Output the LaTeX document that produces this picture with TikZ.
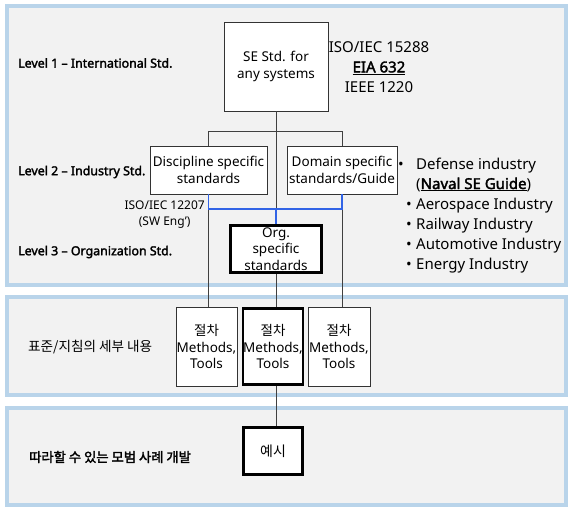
\documentclass[tikz,border=0pt]{standalone}
\usepackage{fontspec}
\setmainfont{Noto Sans}[AutoFakeBold=2.2]
\newfontfamily\kr{Noto Sans CJK KR}[AutoFakeBold=2.2]
\definecolor{pblue}{RGB}{185,212,234}
\definecolor{pgray}{RGB}{242,242,242}
\definecolor{lblue}{RGB}{50,100,230}
\definecolor{lgray}{RGB}{64,64,64}
\begin{document}
\begin{tikzpicture}[x=1pt,y=-1pt,
  panel/.style={draw=pblue, line width=3.5pt, fill=pgray},
  box/.style={draw=black!80, line width=0.9pt, fill=white, align=center, inner sep=0pt, font=\fontsize{13.5}{16.5}\selectfont},
  boxb/.style={box, draw=black, line width=2.6pt},
  lvl/.style={anchor=west, inner sep=0pt, font=\bfseries\fontsize{12.4}{14}\selectfont},
  conn/.style={draw=lgray, line width=1pt},
  bconn/.style={draw=lblue, line width=1.2pt},
  std/.style={inner sep=0pt, font=\fontsize{15}{20}\selectfont, align=center},
  bul/.style={anchor=base west, inner sep=0pt, font=\fontsize{15}{18}\selectfont},
  dot/.style={anchor=base, inner sep=0pt, font=\fontsize{15}{18}\selectfont},
  krl/.style={anchor=west, inner sep=0pt, font=\kr\fontsize{13.6}{15}\selectfont},
]
\useasboundingbox (0,0) rectangle (568,507);
% panels
\draw[panel] (7,6) rectangle (566,285);
\draw[panel] (7,297) rectangle (566,395);
\draw[panel] (7,408) rectangle (566,505);

% boxes
\node[box, minimum width=104pt, minimum height=89pt] (se) at (276,66.5) {SE Std. for\\any systems};
\node[box, minimum width=117pt, minimum height=48pt] (disc) at (208.5,170) {Discipline specific\\standards};
\node[box, minimum width=110pt, minimum height=48pt] (dom) at (342,170) {Domain specific\\standards/Guide};
\node[boxb, minimum width=91.4pt, minimum height=47.4pt] (org) at (276,249) {Org.\\specific\\standards};
\node[box, minimum width=61pt, minimum height=79pt] (m1) at (206.5,346.5) {{\kr 절차}\\Methods,\\Tools};
\node[boxb, minimum width=59.4pt, minimum height=76.4pt] (m2) at (273,346.5) {{\kr 절차}\\Methods,\\Tools};
\node[box, minimum width=62pt, minimum height=79pt] (m3) at (339,346.5) {{\kr 절차}\\Methods,\\Tools};
\node[boxb, minimum width=59.4pt, minimum height=47.4pt, font=\kr\fontsize{14}{16}\selectfont] (ex) at (273,451) {예시};

% connectors
\coordinate (jy) at (276,209);
\coordinate (br) at (276,131.5);
\draw[conn] (se.south) -- (se.south |- jy);
\draw[conn] (disc.north) -- (disc.north |- br) -- (dom.north |- br) -- (dom.north);
\draw[conn] (disc.south |- jy) -- (disc.south |- m1.north);
\draw[conn] (dom.south |- jy) -- (dom.south |- m3.north);
\draw[conn] (org.south) -- (org.south |- m2.north);
\draw[conn] (org.south |- m2.south) -- (org.south |- ex.north);
\draw[bconn] (disc.south) -- (disc.south |- jy) -- (dom.south |- jy) -- (dom.south);
\draw[bconn] (se.south |- jy) -- (org.north);

% level labels
\node[lvl] (l1) at (18,63) {Level 1 – International Std.};
\node[lvl] (l2) at (18,172) {Level 2 – Industry Std.};
\node[lvl] (l3) at (18,252) {Level 3 – Organization Std.};
\node[krl] (k1) at (28,347) {표준/지침의 세부 내용};
\node[krl, font=\kr\bfseries\fontsize{13.3}{15}\selectfont] (k2) at (29,457) {따라할 수 있는 모범 사례 개발};

% standards text
\node[std] (iso) at (379,67) {ISO/IEC 15288\\\textbf{\underline{EIA 632}}\\IEEE 1220};
\node[inner sep=0pt, align=center, anchor=east, font=\fontsize{12}{16}\selectfont] (sw) at (205,215) {ISO/IEC 12207\\(SW Eng’)};

% bullet list
\node[dot] (d1) at (401,169) {•};
\node[bul] (b1) at (416,169) {Defense industry};
\node[bul] (b2) at (416,189) {(\textbf{\underline{Naval SE Guide}})};
\node[dot] (d3) at (409,209.5) {•};
\node[bul] (b3) at (416,209.5) {Aerospace Industry};
\node[dot] (d4) at (409,229.5) {•};
\node[bul] (b4) at (416,229.5) {Railway Industry};
\node[dot] (d5) at (409,249.5) {•};
\node[bul] (b5) at (416,249.5) {Automotive Industry};
\node[dot] (d6) at (409,269.5) {•};
\node[bul] (b6) at (416,269.5) {Energy Industry};
\end{tikzpicture}
\end{document}
